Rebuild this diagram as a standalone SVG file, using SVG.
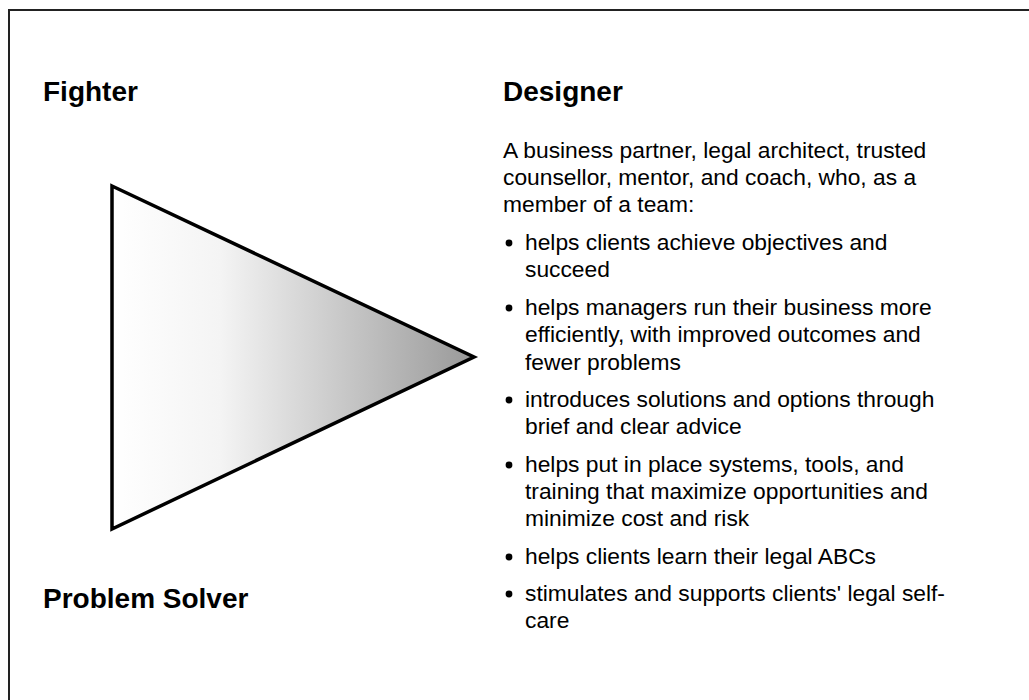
<svg xmlns="http://www.w3.org/2000/svg" width="1029" height="700" viewBox="0 0 1029 700">
  <style>
    .title { font-family: "Liberation Sans", Arial, sans-serif; font-weight: bold; font-size: 28px; fill: #000; }
    .body { font-family: "Liberation Sans", Arial, sans-serif; font-size: 22.8px; fill: #000; }
    .frame { fill: none; stroke: #222; stroke-width: 2; }
  </style>
  <defs>
    <linearGradient id="fade" x1="112" y1="0" x2="474" y2="0" gradientUnits="userSpaceOnUse">
      <stop offset="0" stop-color="#ffffff"/>
      <stop offset="0.3" stop-color="#f4f4f4"/>
      <stop offset="1" stop-color="#999999"/>
    </linearGradient>
  </defs>

  <rect width="1029" height="700" fill="#fff"/>
  <!-- frame: top and left edges -->
  <path class="frame" d="M9 700 V10 H1029"/>

  <g id="fighter">
    <text class="title" x="43" y="101">Fighter</text>
  </g>

  <g id="wedge">
    <polygon points="112,186 474,357 112,529" fill="url(#fade)" stroke="#000" stroke-width="3.5" stroke-linejoin="miter"/>
  </g>

  <g id="problem-solver">
    <text class="title" x="43" y="608">Problem Solver</text>
  </g>

  <g id="designer">
    <text class="title" x="503" y="101">Designer</text>
    <g class="body">
      <text x="503" y="158">A business partner, legal architect, trusted</text>
      <text x="503" y="185">counsellor, mentor, and coach, who, as a</text>
      <text x="503" y="212">member of a team:</text>

      <circle cx="509" cy="243" r="3.4"/>
      <text x="525" y="250">helps clients achieve objectives and</text>
      <text x="525" y="277">succeed</text>

      <circle cx="509" cy="308" r="3.4"/>
      <text x="525" y="315">helps managers run their business more</text>
      <text x="525" y="342">efficiently, with improved outcomes and</text>
      <text x="525" y="370">fewer problems</text>

      <circle cx="509" cy="400" r="3.4"/>
      <text x="525" y="407">introduces solutions and options through</text>
      <text x="525" y="434">brief and clear advice</text>

      <circle cx="509" cy="465" r="3.4"/>
      <text x="525" y="472">helps put in place systems, tools, and</text>
      <text x="525" y="499">training that maximize opportunities and</text>
      <text x="525" y="526">minimize cost and risk</text>

      <circle cx="509" cy="557" r="3.4"/>
      <text x="525" y="564">helps clients learn their legal ABCs</text>

      <circle cx="509" cy="594" r="3.4"/>
      <text x="525" y="601">stimulates and supports clients' legal self-</text>
      <text x="525" y="628">care</text>
    </g>
  </g>
</svg>
